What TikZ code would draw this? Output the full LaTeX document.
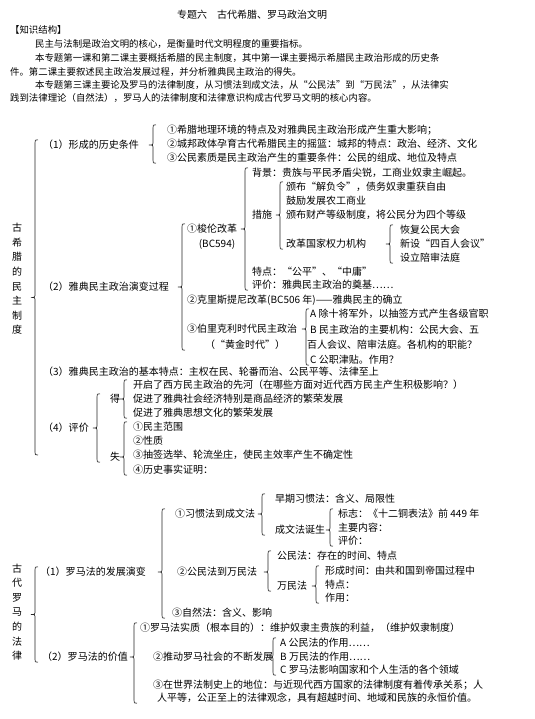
\documentclass[tikz,border=0pt]{standalone}
\usepackage{fontspec}
\setmainfont{Noto Sans CJK SC}
\usetikzlibrary{calc}

% brace: x of the stem, tip, top end, bottom end
\newcommand{\brc}[4]{%
  \draw[brc] ($(#1,0 |- #3)+(3,0)$) .. controls (#1,0 |- #3) .. ($(#1,0 |- #3)+(0,3)$)
    -- ($(#1,0 |- #2)+(0,-4)$) .. controls (#1,0 |- #2) .. ($(#1,0 |- #2)+(-4,0)$)
    .. controls (#1,0 |- #2) .. ($(#1,0 |- #2)+(0,4)$)
    -- ($(#1,0 |- #4)+(0,-3)$) .. controls (#1,0 |- #4) .. ($(#1,0 |- #4)+(3,0)$);
}

\begin{document}
\begin{tikzpicture}[
    x=1bp, y=-1bp,
    tr/.style={anchor=west, inner sep=0pt, text height=8.8bp, text depth=1.2bp,
               font=\fontsize{10bp}{12bp}\selectfont},
    trc/.style={tr, anchor=center},
    intro/.style={tr, font=\fontsize{9.4bp}{12bp}\selectfont},
    vlab/.style={align=center, inner sep=0pt, font=\fontsize{10bp}{14.6bp}\selectfont},
    brc/.style={draw=black!85, line width=0.65bp}
  ]
  \useasboundingbox[fill=white] (0,0) rectangle (535,719);

  %% Title and introduction
  \node[trc] (ttl) at (252,15) {专题六\hspace{1em}古代希腊、罗马政治文明};
  \node[intro] (zsjg) at (10,30) {【知识结构】};
  \node[intro] (p1) at (35,44) {民主与法制是政治文明的核心，是衡量时代文明程度的重要指标。};
  \node[intro] (p2a) at (35,58) {本专题第一课和第二课主要概括希腊的民主制度，其中第一课主要揭示希腊民主政治形成的历史条};
  \node[intro] (p2b) at (10,72) {件。第二课主要叙述民主政治发展过程，并分析雅典民主政治的得失。};
  \node[intro] (p3a) at (35,85) {本专题第三课主要论及罗马的法律制度，从习惯法到成文法，从“公民法”到“万民法”，从法律实};
  \node[intro] (p3b) at (10,98) {践到法律理论（自然法），罗马人的法律制度和法律意识构成古代罗马文明的核心内容。};

  %% Greek democracy
  \node[vlab] (gxl) at (17,279) {古\\希\\腊\\的\\民\\主\\制\\度};

  \node[tr] (g1) at (43,145) {（1）形成的历史条件};
  \node[tr] (g1a) at (167,130) {①希腊地理环境的特点及对雅典民主政治形成产生重大影响；};
  \node[tr] (g1b) at (167,144) {②城邦政体孕育古代希腊民主的摇篮：城邦的特点：政治、经济、文化};
  \node[tr] (g1c) at (167,158) {③公民素质是民主政治产生的重要条件：公民的组成、地位及特点};

  \node[tr] (g2) at (43,287) {（2）雅典民主政治演变过程};
  \node[tr] (g2a) at (187,229) {①梭伦改革};
  \node[trc] (g2a2) at (217,244) {(BC594)};
  \node[tr] (bj) at (252,173) {背景：贵族与平民矛盾尖锐，工商业奴隶主崛起。};
  \node[tr] (cs) at (252,215) {措施};
  \node[tr] (cs1) at (286,187) {颁布“解负令”，债务奴隶重获自由};
  \node[tr] (cs2) at (286,201) {鼓励发展农工商业};
  \node[tr] (cs3) at (286,215) {颁布财产等级制度，将公民分为四个等级};
  \node[tr] (cs4) at (286,244) {改革国家权力机构};
  \node[tr] (cs4a) at (400,230) {恢复公民大会};
  \node[tr] (cs4b) at (400,244) {新设“四百人会议”};
  \node[tr] (cs4c) at (400,258) {设立陪审法庭};
  \node[tr] (td) at (252,272) {特点：“公平”、“中庸”};
  \node[tr] (pj) at (252,285) {评价：雅典民主政治的奠基……};
  \node[tr] (g2b) at (187,300) {②克里斯提尼改革(BC506 年)——雅典民主的确立};
  \node[tr] (g2c) at (187,329) {③伯里克利时代民主政治};
  \node[trc] (g2c2) at (245,345) {（“黄金时代”）};
  \node[tr] (pA) at (310,314) {A 除十将军外，以抽签方式产生各级官职};
  \node[tr] (pB) at (310,330) {B 民主政治的主要机构：公民大会、五};
  \node[tr] (pB2) at (307,345) {百人会议、陪审法庭。各机构的职能？};
  \node[tr] (pC) at (310,360) {C 公职津贴。作用？};

  \node[tr] (g3) at (43,372) {（3）雅典民主政治的基本特点：主权在民、轮番而治、公民平等、法律至上};

  \node[tr] (g4) at (43,428) {（4）评价};
  \node[tr] (de) at (110,399) {得};
  \node[tr] (de1) at (133,385) {开启了西方民主政治的先河（在哪些方面对近代西方民主产生积极影响？）};
  \node[tr] (de2) at (133,399) {促进了雅典社会经济特别是商品经济的繁荣发展};
  \node[tr] (de3) at (133,413) {促进了雅典思想文化的繁荣发展};
  \node[tr] (shi) at (110,457) {失};
  \node[tr] (shi1) at (133,427) {①民主范围};
  \node[tr] (shi2) at (133,441) {②性质};
  \node[tr] (shi3) at (133,455) {③抽签选举、轮流坐庄，使民主效率产生不确定性};
  \node[tr] (shi4) at (133,470) {④历史事实证明：};

  \coordinate (gmid) at ($(g1.north)!0.5!(shi3)$);
  \brc{35}{gmid}{g1.north}{shi3}
  \brc{153}{g1}{g1a.north}{g1c.south}
  \brc{182}{g2}{g2a.north}{g2c2.south}
  \brc{245}{g2a}{bj.north}{pj.south}
  \brc{280}{cs}{cs1.north}{cs4.south}
  \brc{390}{cs4}{cs4a.north}{cs4c.south}
  \brc{306}{g2c}{pA.north}{pC.south}
  \brc{97}{g4}{de.north}{shi.south}
  \brc{124}{de}{de1.north}{de3.south}
  \brc{124}{shi}{shi1.north}{shi4.south}

  %% Roman law
  \node[vlab] (rl) at (17,612) {古\\代\\罗\\马\\的\\法\\律};

  \node[tr] (r1) at (40,572) {（1）罗马法的发展演变};
  \node[tr] (r1a) at (175,514) {①习惯法到成文法};
  \node[tr] (r1a1) at (275,499) {早期习惯法：含义、局限性};
  \node[tr] (r1a2) at (275,530) {成文法诞生};
  \node[tr] (r1a2a) at (338,514) {标志：《十二铜表法》前 449 年};
  \node[tr] (r1a2b) at (338,528) {主要内容：};
  \node[tr] (r1a2c) at (338,541) {评价：};
  \node[tr] (r1b) at (177,572) {②公民法到万民法};
  \node[tr] (r1b1) at (277,556) {公民法：存在的时间、特点};
  \node[tr] (r1b2) at (277,586) {万民法};
  \node[tr] (r1b2a) at (325,571) {形成时间：由共和国到帝国过程中};
  \node[tr] (r1b2b) at (325,585) {特点：};
  \node[tr] (r1b2c) at (325,598) {作用：};
  \node[tr] (r1c) at (172,613) {③自然法：含义、影响};

  \node[tr] (r2) at (42,657) {（2）罗马法的价值};
  \node[tr] (r2a) at (140,628) {①罗马法实质（根本目的）：维护奴隶主贵族的利益，（维护奴隶制度）};
  \node[tr] (r2b) at (153,657) {②推动罗马社会的不断发展};
  \node[tr] (rA) at (280,643) {A 公民法的作用……};
  \node[tr] (rB) at (280,657) {B 万民法的作用……};
  \node[tr] (rC) at (280,670) {C 罗马法影响国家和个人生活的各个领域};
  \node[tr] (r2c) at (153,685) {③在世界法制史上的地位：与近现代西方国家的法律制度有着传承关系；人};
  \node[tr] (r2c2) at (157,698) {人平等，公正至上的法律观念，具有超越时间、地域和民族的永恒价值。};

  \coordinate (rmid) at ($(r1.north)!0.5!(r2.south)$);
  \brc{35}{rmid}{r1.north}{r2.south}
  \brc{162}{r1}{r1a.north}{r1c.south}
  \brc{262}{r1a}{r1a1.north}{r1a2.south}
  \brc{330}{r1a2}{r1a2a.north}{r1a2c.south}
  \brc{268}{r1b}{r1b1.north}{r1b2.south}
  \brc{316}{r1b2}{r1b2a.north}{r1b2c.south}
  \brc{134}{r2}{r2a.north}{r2c2.south}
  \brc{273}{r2b}{rA.north}{rC.south}

\end{tikzpicture}
\end{document}
